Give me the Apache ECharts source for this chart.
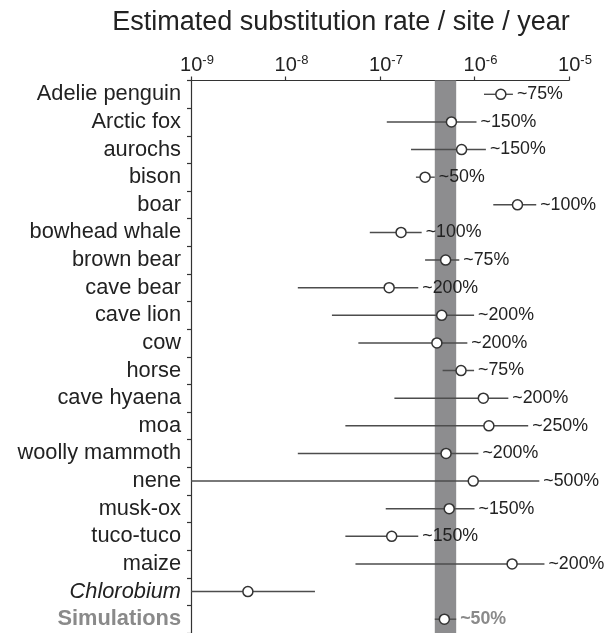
<!DOCTYPE html>
<html>
<head>
<meta charset="utf-8">
<script src="https://cdn.jsdelivr.net/npm/echarts@6/dist/echarts.min.js"></script>
<style>
  html, body { margin: 0; padding: 0; background: #fff; }
  #chart { width: 616px; height: 633px; }
</style>
</head>
<body>
<div id="chart"></div>
<script>
// Taxa, top to bottom
const taxa = ['Adelie penguin', 'Arctic fox', 'aurochs', 'bison', 'boar', 'bowhead whale',
  'brown bear', 'cave bear', 'cave lion', 'cow', 'horse', 'cave hyaena', 'moa',
  'woolly mammoth', 'nene', 'musk-ox', 'tuco-tuco', 'maize', 'Chlorobium', 'Simulations'];

// Estimated rate (substitutions / site / year)
const rateEstimate = [1.9e-6, 5.7e-7, 7.3e-7, 3.0e-7, 2.85e-6, 1.67e-7, 4.95e-7, 1.25e-7,
  4.5e-7, 4.0e-7, 7.2e-7, 1.24e-6, 1.42e-6, 5.0e-7, 9.7e-7, 5.4e-7, 1.33e-7, 2.5e-6,
  4.0e-9, 4.8e-7];

// Lower and upper bounds of each interval
const rateLow = [1.26e-6, 1.18e-7, 2.13e-7, 2.4e-7, 1.58e-6, 7.8e-8, 3.0e-7, 1.35e-8,
  3.1e-8, 5.9e-8, 4.6e-7, 1.42e-7, 4.3e-8, 1.35e-8, 1e-9, 1.15e-7, 4.3e-8, 5.5e-8,
  1e-9, 3.8e-7];
const rateHigh = [2.55e-6, 1.05e-6, 1.32e-6, 3.8e-7, 4.5e-6, 2.76e-7, 6.9e-7, 2.54e-7,
  9.9e-7, 8.4e-7, 9.9e-7, 2.28e-6, 3.7e-6, 1.1e-6, 4.85e-6, 1.0e-6, 2.54e-7, 5.5e-6,
  2.05e-8, 6.4e-7];

// Relative uncertainty annotations
const uncertainty = ['~75%', '~150%', '~150%', '~50%', '~100%', '~100%', '~75%', '~200%',
  '~200%', '~200%', '~75%', '~200%', '~250%', '~200%', '~500%', '~150%', '~150%', '~200%',
  '', '~50%'];

// Range covered by the simulations (shaded band)
const simulationBand = [3.8e-7, 6.4e-7];

// Axis
const axisRange = [1e-9, 1e-5];
const tickExponents = ['-9', '-8', '-7', '-6', '-5'];
const italicTaxa = ['Chlorobium'];
const simulationTaxon = 'Simulations';

const FONT = '"Liberation Sans", Arial, Helvetica, sans-serif';
const INK = '#222';
const SIM_GREY = '#8a8a8a';

const chart = echarts.init(document.getElementById('chart'), null, { renderer: 'canvas' });

const intervals = taxa.map((t, i) => [rateLow[i], rateHigh[i], i, uncertainty[i]]);
const points = taxa.map((t, i) => [rateEstimate[i], i]);

chart.setOption({
  animation: false,
  backgroundColor: '#fff',
  graphic: [{
    type: 'text',
    x: 341,
    y: 23,
    style: {
      text: 'Estimated substitution rate / site / year',
      font: '27px ' + FONT,
      fill: INK,
      align: 'center',
      verticalAlign: 'middle',
      textAlign: 'center',
      textVerticalAlign: 'middle'
    }
  }],
  grid: { left: 191, top: 80.5, width: 378, height: 558, containLabel: false },
  xAxis: {
    type: 'log',
    logBase: 10,
    position: 'top',
    min: axisRange[0],
    max: axisRange[1],
    axisLine: { show: true, lineStyle: { color: '#333', width: 1.2 } },
    axisTick: { show: true, length: 4, lineStyle: { color: '#333', width: 1.2 } },
    minorTick: { show: false },
    splitLine: { show: false },
    axisLabel: {
      margin: 3,
      color: INK,
      formatter: (v) => {
        const idx = Math.round(Math.log10(v)) + 9;
        return '{pad|}{b|10}{s|' + tickExponents[idx] + '}';
      },
      rich: {
        pad: { width: 12, fontSize: 20, lineHeight: 24 },
        b: { fontSize: 20, fontFamily: FONT, color: INK, lineHeight: 24 },
        s: { fontSize: 13, fontFamily: FONT, color: INK, lineHeight: 13, verticalAlign: 'top' }
      }
    }
  },
  yAxis: {
    type: 'category',
    data: taxa,
    inverse: true,
    axisLine: { show: true, lineStyle: { color: '#333', width: 1.2 } },
    axisTick: { show: true, length: 4, interval: 0, lineStyle: { color: '#333', width: 1.2 } },
    splitLine: { show: false },
    axisLabel: {
      interval: 0,
      margin: 10,
      color: INK,
      fontSize: 21.8,
      fontFamily: FONT,
      formatter: (v) => {
        if (italicTaxa.includes(v)) return '{it|' + v + '}';
        if (v === simulationTaxon) return '{sim|' + v + '}';
        return v;
      },
      rich: {
        it: { fontSize: 21.8, fontFamily: FONT, fontStyle: 'italic', color: INK },
        sim: { fontSize: 21.8, fontFamily: FONT, fontWeight: 'bold', color: SIM_GREY }
      }
    }
  },
  series: [
    {
      // shaded simulation band
      type: 'line',
      data: [],
      z: 1,
      silent: true,
      markArea: {
        silent: true,
        itemStyle: { color: '#8d8d8f', opacity: 1 },
        data: [[{ xAxis: simulationBand[0] }, { xAxis: simulationBand[1] }]]
      }
    },
    {
      // interval lines with uncertainty annotation
      type: 'custom',
      z: 3,
      clip: false,
      data: intervals,
      encode: { x: [0, 1], y: 2 },
      renderItem: (params, api) => {
        const row = api.value(2);
        const lo = api.coord([api.value(0), row]);
        const hi = api.coord([api.value(1), row]);
        const label = intervals[params.dataIndex][3];
        const isSim = taxa[row] === simulationTaxon;
        const children = [{
          type: 'line',
          shape: { x1: lo[0], y1: lo[1], x2: hi[0], y2: hi[1] },
          style: { stroke: '#4d4d4d', lineWidth: 1.4 }
        }];
        if (label) {
          children.push({
            type: 'text',
            x: hi[0] + 4,
            y: hi[1],
            style: {
              text: label,
              font: (isSim ? 'bold ' : '') + '17.8px ' + FONT,
              fill: isSim ? SIM_GREY : INK,
              align: 'left',
              verticalAlign: 'middle',
              textAlign: 'left',
              textVerticalAlign: 'middle'
            }
          });
        }
        return { type: 'group', children };
      }
    },
    {
      // point estimates
      type: 'scatter',
      z: 4,
      data: points,
      symbol: 'circle',
      symbolSize: 10,
      itemStyle: { color: '#fff', borderColor: '#333', borderWidth: 1.5, opacity: 1 }
    }
  ]
});
</script>
</body>
</html>
